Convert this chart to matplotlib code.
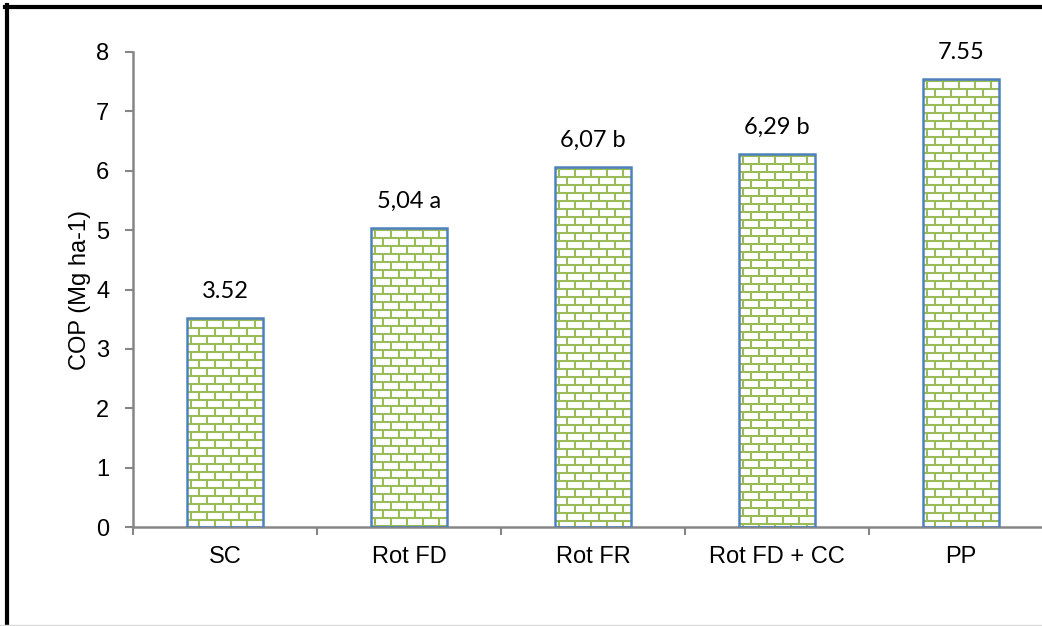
import numpy as np
import matplotlib
matplotlib.use("Agg")
import matplotlib.pyplot as plt
from matplotlib.collections import LineCollection
from matplotlib.lines import Line2D
from matplotlib.transforms import IdentityTransform

# data
categories = ["SC", "Rot FD", "Rot FR", "Rot FD + CC", "PP"]
values = [3.52, 5.04, 6.07, 6.29, 7.55]
bar_labels = ["3.52", "5,04 a", "6,07 b", "6,29 b", "7.55"]
y_ticks = [0, 1, 2, 3, 4, 5, 6, 7, 8]

green = "#9BBB59"
blue = "#4F81BD"
gray = "#868686"

plt.rcParams["font.family"] = ["Liberation Sans", "DejaVu Sans"]

W, H = 1042, 626
fig = plt.figure(figsize=(W / 100, H / 100), dpi=100)
ax = fig.add_axes([133 / W, 99 / H, 920 / W, 475 / H])

x = np.arange(len(categories))
bars = ax.bar(x, values, width=0.41, facecolor="none", edgecolor=blue,
              linewidth=1.8, zorder=3)

ax.set_xlim(-0.5, 4.5)
ax.set_ylim(0, 8)
ax.set_yticks(y_ticks)
ax.set_xticks(x)
ax.set_xticklabels(categories, fontsize=17)
ax.set_xticks(np.arange(-0.5, 5, 1), minor=True)
ax.tick_params(axis="x", which="major", length=0, pad=14)
ax.tick_params(axis="x", which="minor", length=6, width=1.5, color=gray, direction="out")
ax.tick_params(axis="y", which="major", length=6, width=1.5, color=gray, labelsize=17, pad=11)
for s in ["top", "right"]:
    ax.spines[s].set_visible(False)
for s in ["left", "bottom"]:
    ax.spines[s].set_color(gray)
    ax.spines[s].set_linewidth(1.8)
ax.set_ylabel("COP (Mg ha-1)", fontsize=17, labelpad=4)

# brick fill, drawn in pixel units from the top of each bar and clipped to it
bw, bh = 16, 8
for b in bars:
    (x0, y0), (x1, y1) = ax.transData.transform([[b.get_x(), 0],
                                                  [b.get_x() + b.get_width(), b.get_height()]])
    segs = []
    row = 0
    yy = y1 - 2
    while yy > y0:
        segs.append([(x0, yy), (x1, yy)])
        off = 0 if row % 2 == 0 else bw / 2
        xx = x0 + 4 + off
        while xx < x1:
            segs.append([(xx, yy), (xx, max(yy - bh, y0))])
            xx += bw
        yy -= bh
        row += 1
    lc = LineCollection(segs, colors=green, linewidths=1.5, transform=IdentityTransform(), zorder=2)
    ax.add_collection(lc, autolim=False)
    lc.set_clip_path(b)

for i, v in enumerate(values):
    ax.annotate(bar_labels[i], (x[i], v), xytext=(0, 19), textcoords="offset points",
                ha="center", va="center", fontsize=17, family=["Lato", "DejaVu Sans"])

# outer frame
fig.add_artist(Line2D([5 / W, 1], [1 - 6.5 / H, 1 - 6.5 / H], color="black", linewidth=3, transform=fig.transFigure))
fig.add_artist(Line2D([7 / W, 7 / W], [0, 1 - 5 / H], color="black", linewidth=3, transform=fig.transFigure))
fig.add_artist(Line2D([0, 1], [1.5 / H, 1.5 / H], color="#d9d9d9", linewidth=1, transform=fig.transFigure))

fig.savefig("out.png", dpi=100)
